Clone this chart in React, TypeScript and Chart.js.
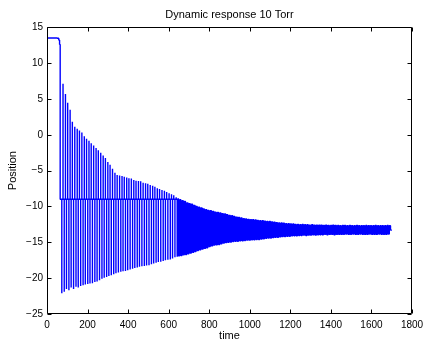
import React, { useEffect, useRef } from "react";
import { Chart, registerables } from "chart.js";

Chart.register(...registerables);

// ---- Text ----
const chartTitle = "Dynamic response 10 Torr";
const xAxisLabel = "time";
const yAxisLabel = "Position";

// ---- Tick labels ----
const xTickValues = [0, 200, 400, 600, 800, 1000, 1200, 1400, 1600, 1800];
const yTickValues = [-25, -20, -15, -10, -5, 0, 5, 10, 15];

// ---- Data ----
// initial plateau before the release
const plateauTimes = [0, 50, 58, 62, 65];
const plateauValues = [13.5, 13.5, 13.45, 13.2, 12.6];

// rest level that the early spikes leave from and return to
const restLevel = -9;

// time of each upward spike (one per oscillation cycle)
const cycleTimes = [
  79, 91, 102, 114, 125, 137, 149, 160, 172, 184,
  195, 207, 218, 230, 242, 253, 265, 277, 288, 300,
  311, 323, 335, 346, 358, 370, 381, 393, 404, 416,
  428, 439, 451, 462, 474, 486, 497, 509, 521, 532,
  544, 555, 567, 579, 590, 602, 614, 625, 637, 648,
  660, 672, 683, 695, 706, 718, 730, 741, 753, 765,
  776, 788, 799, 811, 823, 834, 846, 858, 869, 881,
  892, 904, 916, 927, 939, 950, 962, 974, 985, 997,
  1009, 1020, 1032, 1043, 1055, 1067, 1078, 1090, 1102, 1113,
  1125, 1136, 1148, 1160, 1171, 1183, 1195, 1206, 1218, 1229,
  1241, 1253, 1264, 1276, 1288, 1299, 1311, 1322, 1334, 1346,
  1357, 1369, 1380, 1392, 1404, 1415, 1427, 1439, 1450, 1462,
  1473, 1485, 1497, 1508, 1520, 1532, 1543, 1555, 1566, 1578,
  1590, 1601, 1613, 1624, 1636, 1648, 1659, 1671, 1683, 1694,
];
// the downward spike of each cycle comes this long before the upward one
const downSpikeLead = 6;

// peak (upper) value of each cycle
const topValues = [
  7.1, 5.7, 4.45, 3.5, 1.8, 1.1, 0.85, 0.6, 0.3, -0.2,
  -0.55, -0.85, -1.2, -1.5, -1.85, -2.15, -2.5, -2.9, -3.25, -3.8,
  -4.2, -4.75, -5.3, -5.6, -5.7, -5.75, -5.85, -5.95, -6.05, -6.1,
  -6.3, -6.4, -6.45, -6.5, -6.7, -6.75, -6.85, -7.0, -7.1, -7.25,
  -7.45, -7.55, -7.7, -7.8, -8.0, -8.15, -8.3, -8.45, -8.7, -8.85,
  -9.05, -9.2, -9.3, -9.5, -9.6, -9.7, -9.85, -10.0, -10.1, -10.2,
  -10.35, -10.45, -10.55, -10.6, -10.7, -10.8, -10.85, -10.9, -11.0, -11.05,
  -11.15, -11.25, -11.3, -11.4, -11.5, -11.55, -11.6, -11.7, -11.75, -11.8,
  -11.85, -11.85, -11.9, -11.95, -12.0, -12.0, -12.05, -12.1, -12.1, -12.15,
  -12.2, -12.25, -12.3, -12.3, -12.35, -12.4, -12.4, -12.45, -12.45, -12.5,
  -12.5, -12.55, -12.5, -12.55, -12.55, -12.6, -12.55, -12.6, -12.6, -12.6,
  -12.6, -12.65, -12.6, -12.65, -12.65, -12.6, -12.65, -12.65, -12.7, -12.65,
  -12.65, -12.7, -12.65, -12.7, -12.7, -12.65, -12.7, -12.7, -12.7, -12.65,
  -12.7, -12.7, -12.7, -12.65, -12.7, -12.7, -12.7, -12.7, -12.65, -12.7,
];

// trough (lower) value of each cycle
const bottomValues = [
  -22.1, -21.9, -21.5, -21.7, -21.3, -21.5, -21.2, -21.3, -21.1, -21.0,
  -20.9, -20.8, -20.75, -20.7, -20.55, -20.45, -20.3, -20.1, -19.95, -19.85,
  -19.7, -19.6, -19.45, -19.3, -19.2, -19.1, -19.05, -19.0, -18.9, -18.8,
  -18.7, -18.6, -18.5, -18.4, -18.35, -18.3, -18.25, -18.2, -18.05, -17.95,
  -17.85, -17.75, -17.7, -17.6, -17.5, -17.45, -17.4, -17.25, -17.1, -17.0,
  -16.9, -16.85, -16.75, -16.7, -16.6, -16.5, -16.4, -16.3, -16.15, -16.05,
  -15.95, -15.85, -15.75, -15.6, -15.5, -15.4, -15.35, -15.3, -15.2, -15.1,
  -15.05, -15.0, -14.95, -14.9, -14.85, -14.85, -14.8, -14.8, -14.75, -14.7,
  -14.7, -14.65, -14.65, -14.6, -14.6, -14.55, -14.5, -14.45, -14.4, -14.4,
  -14.35, -14.3, -14.3, -14.25, -14.2, -14.2, -14.15, -14.15, -14.1, -14.1,
  -14.1, -14.05, -14.05, -14.0, -14.05, -14.0, -14.0, -13.95, -14.0, -13.95,
  -13.95, -13.95, -13.9, -13.95, -13.9, -13.9, -13.95, -13.9, -13.9, -13.9,
  -13.9, -13.85, -13.9, -13.9, -13.85, -13.9, -13.9, -13.85, -13.9, -13.9,
  -13.9, -13.85, -13.9, -13.9, -13.9, -13.85, -13.9, -13.9, -13.9, -13.85,
];

// final sample
const endTimes = [1701];
const endValues = [-13.3];

const FONT = "'Liberation Sans', Arial, Helvetica, sans-serif";

function buildPoints() {
  const pts: { x: number; y: number }[] = [];
  plateauTimes.forEach((t, i) => pts.push({ x: t, y: plateauValues[i] }));
  cycleTimes.forEach((t, k) => {
    const tDown = t - downSpikeLead;
    const top = topValues[k];
    const bottom = bottomValues[k];
    if (top > restLevel) {
      pts.push({ x: tDown, y: restLevel });
      pts.push({ x: tDown, y: bottom });
      pts.push({ x: tDown, y: restLevel });
      pts.push({ x: t, y: restLevel });
      pts.push({ x: t, y: top });
      pts.push({ x: t, y: restLevel });
    } else {
      pts.push({ x: tDown, y: bottom });
      pts.push({ x: t, y: top });
    }
  });
  endTimes.forEach((t, i) => pts.push({ x: t, y: endValues[i] }));
  return pts;
}

const framePlugin = {
  id: "matlabFrame",
  afterDatasetsDraw(chart: any) {
    const { ctx, chartArea, scales } = chart;
    const { left, right, top, bottom } = chartArea;
    const L = Math.round(left) + 0.5;
    const R = Math.round(right) - 0.5;
    const T = Math.round(top) + 0.5;
    const B = Math.round(bottom) - 0.5;
    const tick = 4;
    ctx.save();
    ctx.strokeStyle = "#000";
    ctx.lineWidth = 1;
    ctx.beginPath();
    ctx.rect(L, T, R - L, B - T);
    xTickValues.forEach((v) => {
      const px = Math.round(scales.x.getPixelForValue(v)) + 0.5;
      ctx.moveTo(px, B);
      ctx.lineTo(px, B - tick);
      ctx.moveTo(px, T);
      ctx.lineTo(px, T + tick);
    });
    yTickValues.forEach((v) => {
      const py = Math.round(scales.y.getPixelForValue(v)) + 0.5;
      ctx.moveTo(L, py);
      ctx.lineTo(L + tick, py);
      ctx.moveTo(R, py);
      ctx.lineTo(R - tick, py);
    });
    ctx.stroke();
    ctx.restore();
  },
};

export default function App() {
  const canvasRef = useRef<HTMLCanvasElement | null>(null);

  useEffect(() => {
    document.body.style.margin = "0";
    const canvas = canvasRef.current;
    if (!canvas) return;
    const chart = new Chart(canvas, {
      type: "line",
      data: {
        datasets: [
          {
            data: buildPoints(),
            borderColor: "#0000ff",
            borderWidth: 1.4,
            stepped: "after",
            borderJoinStyle: "bevel",
            borderCapStyle: "butt",
            pointRadius: 0,
            fill: false,
          },
        ],
      },
      options: {
        animation: false,
        responsive: false,
        devicePixelRatio: 1,
        parsing: false,
        normalized: true,
        events: [],
        layout: { padding: { left: 0, right: 11, top: 0, bottom: 0 } },
        plugins: {
          legend: { display: false },
          tooltip: { enabled: false },
          title: {
            display: true,
            text: chartTitle,
            fullSize: false,
            color: "#000",
            font: { family: FONT, size: 11, weight: "normal" },
            padding: { top: 8, bottom: 6 },
          },
        },
        scales: {
          x: {
            type: "linear",
            min: 0,
            max: 1800,
            grid: { display: false, drawTicks: false },
            border: { display: false },
            afterBuildTicks: (s: any) => {
              s.ticks = xTickValues.map((v) => ({ value: v }));
            },
            ticks: {
              autoSkip: false,
              maxRotation: 0,
              padding: 5,
              color: "#000",
              font: { family: FONT, size: 10 },
              callback: (v: any) => String(v),
            },
            title: {
              display: true,
              text: xAxisLabel,
              color: "#000",
              font: { family: FONT, size: 11 },
              padding: { top: 0, bottom: 0 },
            },
            afterFit: (s: any) => {
              s.height = 29;
              s.paddingLeft = 0;
              s.paddingRight = 0;
            },
          },
          y: {
            type: "linear",
            min: -25,
            max: 15,
            grid: { display: false, drawTicks: false },
            border: { display: false },
            afterBuildTicks: (s: any) => {
              s.ticks = yTickValues.map((v) => ({ value: v }));
            },
            ticks: {
              autoSkip: false,
              padding: 4,
              color: "#000",
              font: { family: FONT, size: 10 },
              callback: (v: any) => String(v).replace("-", "\u2212"),
            },
            title: {
              display: true,
              text: yAxisLabel,
              color: "#000",
              font: { family: FONT, size: 11 },
              padding: { top: 6, bottom: 0 },
            },
            afterFit: (s: any) => {
              s.width = 47;
              s.paddingTop = 0;
              s.paddingBottom = 0;
            },
          },
        },
      },
      plugins: [framePlugin],
    });
    return () => chart.destroy();
  }, []);

  return (
    <div style={{ width: 423, height: 343, background: "#fff" }}>
      <canvas ref={canvasRef} width={423} height={343} style={{ display: "block" }} />
    </div>
  );
}
